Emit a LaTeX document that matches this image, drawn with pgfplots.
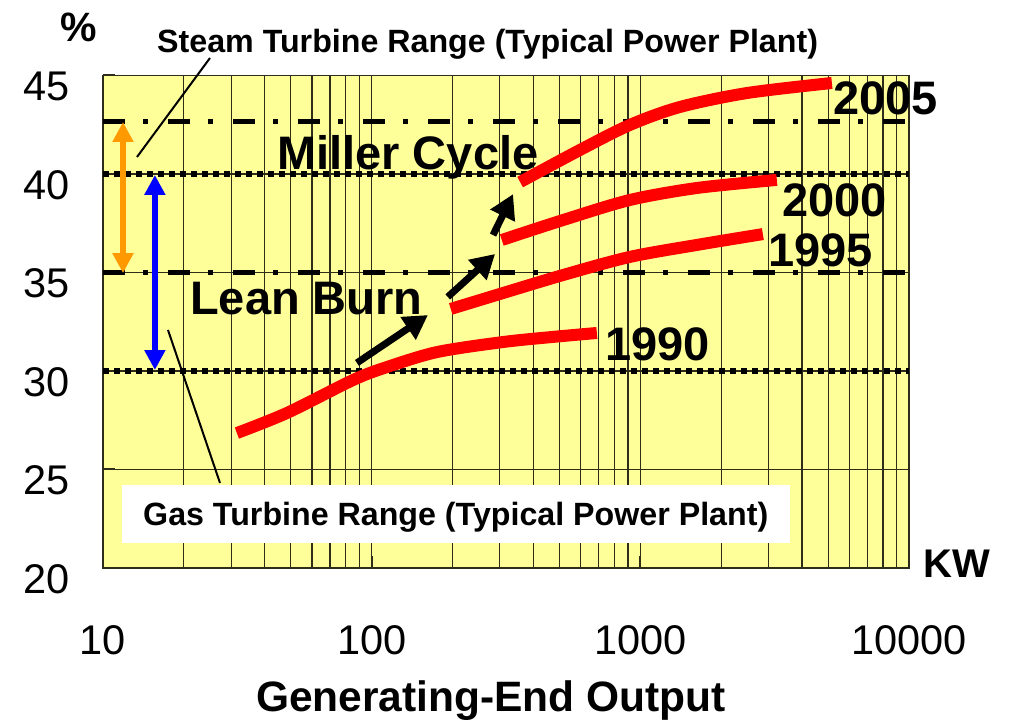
\documentclass[border=0pt]{standalone}
\usepackage{fontspec}
\setmainfont{Liberation Sans}
\usepackage{pgfplots}
\pgfplotsset{compat=1.18}
\usetikzlibrary{arrows.meta}
\definecolor{bgy}{RGB}{255,255,153}
\definecolor{gridc}{RGB}{45,45,25}
\definecolor{myorange}{RGB}{255,153,0}
\newcommand{\fs}[1]{\fontsize{#1}{#1}\selectfont}
\begin{document}
\begin{tikzpicture}
\useasboundingbox (-103pt,-154pt) rectangle (907pt,568pt);
\begin{axis}[
  scale only axis, width=806pt, height=492.5pt,
  xmode=log, xmin=10, xmax=10000, ymin=20, ymax=45,
  xtick={10,100,1000,10000}, xticklabels={10,100,1000,10000},
  ytick={20,25,30,35,40,45}, yticklabels={20,25,30,35,40,45},
  minor tick length=0pt, major tick length=12pt,
  tick align=inside, tick pos=left,
  major tick style={line width=2pt, color=gridc},
  xminorgrids, xmajorgrids, ymajorgrids,
  grid style={line width=1.2pt, color=gridc},
  minor grid style={line width=1.2pt, color=gridc},
  axis background/.style={fill=bgy},
  axis line style={line width=1.8pt, color=gridc},
  xticklabel style={font=\fs{41.5}, anchor=north, inner sep=0pt, yshift=-57pt},
  yticklabel style={font=\fs{41.5}, anchor=east, inner sep=0pt, xshift=-33pt, yshift=-11pt},
  clip=false,
]
% reference lines
\addplot[black, line width=5.5pt, dash pattern=on 5.5pt off 5.5pt, forget plot] coordinates {(10,40) (10000,40)};
\addplot[black, line width=5.5pt, dash pattern=on 5.5pt off 5.5pt, forget plot] coordinates {(10,30) (10000,30)};
\addplot[black, line width=5pt, dash pattern=on 22pt off 18pt on 5pt off 20pt, forget plot] coordinates {(10,42.64) (10000,42.64)};
\addplot[black, line width=5pt, dash pattern=on 22pt off 18pt on 5pt off 20pt, forget plot] coordinates {(10,35) (10000,35)};
% efficiency curves
\addplot[red, line width=12pt, smooth, line cap=butt] coordinates {
 (31.5,26.85) (48.4,27.87) (85.2,29.54) (114,30.20) (175,30.96) (308,31.47) (473,31.73) (689,31.93)};
\addplot[red, line width=12pt, smooth, line cap=butt] coordinates {
 (197,33.15) (292,33.86) (515,34.87) (914,35.79) (1626,36.40) (2858,36.95)};
\addplot[red, line width=12pt, smooth, line cap=butt] coordinates {
 (305,36.65) (515,37.66) (914,38.68) (1626,39.29) (3222,39.70)};
\addplot[red, line width=12pt, smooth, line cap=butt] coordinates {
 (357,39.59) (596,41.22) (914,42.49) (1403,43.40) (2494,44.11) (5164,44.62)};
% arrows
\draw[-{Triangle[width=26pt,length=24pt]}, line width=7pt] (axis cs:88.1,30.41) -- (axis cs:162,32.84);
\draw[-{Triangle[width=26pt,length=24pt]}, line width=7pt] (axis cs:192,33.76) -- (axis cs:288,35.94);
\draw[-{Triangle[width=26pt,length=24pt]}, line width=7pt] (axis cs:283,36.9) -- (axis cs:336,38.98);
\draw[{Triangle[width=20pt,length=20pt]}-{Triangle[width=20pt,length=20pt]}, line width=6pt, myorange] (axis cs:11.87,42.64) -- (axis cs:11.87,34.97);
\draw[{Triangle[width=20pt,length=20pt]}-{Triangle[width=20pt,length=20pt]}, line width=6pt, blue] (axis cs:15.6,39.95) -- (axis cs:15.6,30.05);
\end{axis}
\fill[white] (19pt,25pt) rectangle (687pt,83pt);
\draw[line width=2pt] (107pt,510pt) -- (34pt,411pt);
\draw[line width=2pt] (65pt,238pt) -- (117pt,85pt);
\begin{scope}[every node/.style={inner sep=0pt, anchor=base west, font=\bfseries}]
\node[font=\bfseries\fs{32.2}] at (54pt,515pt) {Steam Turbine Range (Typical Power Plant)};
\node[font=\bfseries\fs{32.2}] at (40pt,42pt) {Gas Turbine Range (Typical Power Plant)};
\node[font=\bfseries\fs{41}] at (-43pt,526pt) {\%};
\node[font=\bfseries\fs{40}] at (820pt,-10pt) {KW};
\node[font=\bfseries\fs{47}] at (174pt,398pt) {Miller Cycle};
\node[font=\bfseries\fs{47}] at (87pt,253pt) {Lean Burn};
\node[font=\bfseries\fs{47}] at (730pt,453pt) {2005};
\node[font=\bfseries\fs{47}] at (679pt,351pt) {2000};
\node[font=\bfseries\fs{47}] at (665pt,301pt) {1995};
\node[font=\bfseries\fs{47}] at (502pt,207pt) {1990};
\node[font=\bfseries\fs{42.5}, anchor=base] at (388pt,-144pt) {Generating-End Output};
\end{scope}
\end{tikzpicture}
\end{document}
